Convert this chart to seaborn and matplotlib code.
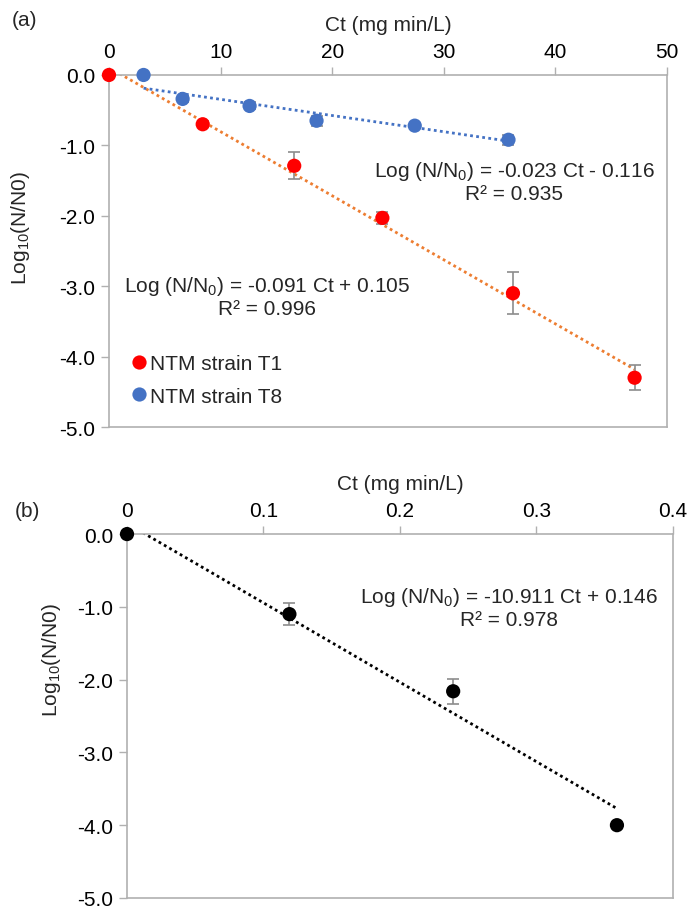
import numpy as np
import pandas as pd
import seaborn as sns
import matplotlib.pyplot as plt

# panel (a) data
t1_ct = [0, 8.4, 16.6, 24.5, 36.2, 47.1]
t1_log = [0.0, -0.70, -1.29, -2.03, -3.10, -4.30]
t1_err = [0.0, 0.04, 0.19, 0.08, 0.30, 0.18]

t8_ct = [3.1, 6.6, 12.6, 18.6, 27.4, 35.8]
t8_log = [0.0, -0.34, -0.44, -0.65, -0.72, -0.92]
t8_err = [0.0, 0.04, 0.05, 0.07, 0.04, 0.07]

t1_fit = (-0.091, 0.105)
t8_fit = (-0.023, -0.116)

# panel (b) data
b_ct = [0.0, 0.119, 0.239, 0.359]
b_log = [0.0, -1.10, -2.16, -4.00]
b_err = [0.0, 0.15, 0.17, 0.03]
b_fit = (-10.911, 0.146)

xticks_a = [0, 10, 20, 30, 40, 50]
xticks_b = [0, 0.1, 0.2, 0.3, 0.4]
yticks = [0.0, -1.0, -2.0, -3.0, -4.0, -5.0]

sns.set_theme(style="white")
plt.rcParams['font.family'] = ['Liberation Sans', 'DejaVu Sans']
plt.rcParams['mathtext.fontset'] = 'custom'
plt.rcParams['mathtext.rm'] = 'Liberation Sans'
plt.rcParams['mathtext.it'] = 'Liberation Sans'
plt.rcParams['axes.unicode_minus'] = False

FS = 15
SPINE = '#b0b0b0'
ERR = '#8c8c8c'

fig = plt.figure(figsize=(6.91, 9.12), dpi=100)
ax_a = fig.add_axes([0.1577, 0.5307, 0.8075, 0.386])
ax_b = fig.add_axes([0.1838, 0.0143, 0.790, 0.399])


def style_axis(ax, xlim, xticks, xfmt):
    ax.set_xlim(*xlim)
    ax.set_ylim(-5, 0)
    ax.xaxis.tick_top()
    ax.xaxis.set_label_position('top')
    ax.set_xticks(xticks)
    ax.set_xticklabels([xfmt(v) for v in xticks])
    ax.set_yticks(yticks)
    ax.set_yticklabels([f"{v:.1f}" for v in yticks])
    ax.tick_params(axis='both', labelsize=FS, colors=SPINE, labelcolor='black',
                   length=6, width=1, direction='out', pad=4)
    ax.tick_params(axis='x', top=True, bottom=False)
    ax.tick_params(axis='y', left=True, right=False)
    for s in ax.spines.values():
        s.set_color(SPINE)
        s.set_linewidth(1.2)
    ax.set_xlabel("Ct (mg min/L)", fontsize=FS, labelpad=9)
    ax.set_ylabel("Log$_{10}$(N/N0)", fontsize=FS)


def fit_line(ax, x0, x1, fit, color):
    xs = np.array([x0, x1])
    df = pd.DataFrame({"x": xs, "y": fit[0] * xs + fit[1]})
    sns.lineplot(data=df, x="x", y="y", ax=ax, color=color, linestyle=(0, (1, 1.2)),
                 linewidth=2, zorder=2)


# ---- panel (a)
fit_line(ax_a, 0, t1_ct[-1], t1_fit, '#ED7D31')
fit_line(ax_a, t8_ct[0], t8_ct[-1], t8_fit, '#4472C4')
ax_a.errorbar(t1_ct, t1_log, yerr=t1_err, fmt='none', ecolor=ERR, elinewidth=1.2,
              capsize=4, capthick=1.2, zorder=3)
ax_a.errorbar(t8_ct, t8_log, yerr=t8_err, fmt='none', ecolor=ERR, elinewidth=1.2,
              capsize=4, capthick=1.2, zorder=3)
pts = pd.DataFrame({
    "ct": t1_ct + t8_ct,
    "log": t1_log + t8_log,
    "strain": ["NTM strain T1"] * len(t1_ct) + ["NTM strain T8"] * len(t8_ct),
})
sns.scatterplot(data=pts, x="ct", y="log", hue="strain", ax=ax_a, s=105,
                palette={"NTM strain T1": "#FF0000", "NTM strain T8": "#4472C4"},
                edgecolor='none', zorder=4, clip_on=False)
style_axis(ax_a, (0, 50), xticks_a, lambda v: f"{v:d}")
leg = ax_a.legend(loc='upper left', bbox_to_anchor=(0.038, 0.207), frameon=False,
                  fontsize=FS, handlelength=0.8, handletextpad=0.15,
                  labelspacing=0.65, borderaxespad=0.0, borderpad=0.0)
ax_a.text(267 / 691, 1 - 297 / 912, "Log (N/N$_0$) = -0.091 Ct + 0.105\nR² = 0.996",
          transform=fig.transFigure, ha='center', va='center', fontsize=FS,
          linespacing=1.1)
ax_a.text(514 / 691, 1 - 182 / 912, "Log (N/N$_0$) = -0.023 Ct - 0.116\nR² = 0.935",
          transform=fig.transFigure, ha='center', va='center', fontsize=FS,
          linespacing=1.1)
ax_a.yaxis.set_label_coords(-0.138, 0.568)
fig.text(12 / 691, 1 - 20 / 912, "(a)", fontsize=FS, ha='left', va='center')

# ---- panel (b)
fit_line(ax_b, 0, b_ct[-1], b_fit, 'black')
ax_b.errorbar(b_ct, b_log, yerr=b_err, fmt='none', ecolor=ERR, elinewidth=1.2,
              capsize=4, capthick=1.2, zorder=3)
sns.scatterplot(x=b_ct, y=b_log, ax=ax_b, s=105, color='black', edgecolor='none',
                zorder=4, clip_on=False)
style_axis(ax_b, (0, 0.4), xticks_b, lambda v: "0" if v == 0 else f"{v:.1f}")
ax_b.text(509 / 691, 1 - 608 / 912, "Log (N/N$_0$) = -10.911 Ct + 0.146\nR² = 0.978",
          transform=fig.transFigure, ha='center', va='center', fontsize=FS,
          linespacing=1.1)
ax_b.yaxis.set_label_coords(-0.117, 0.657)
fig.text(15 / 691, 1 - 512 / 912, "(b)", fontsize=FS, ha='left', va='center')

fig.savefig("out.png", dpi=100)
plt.close(fig)
